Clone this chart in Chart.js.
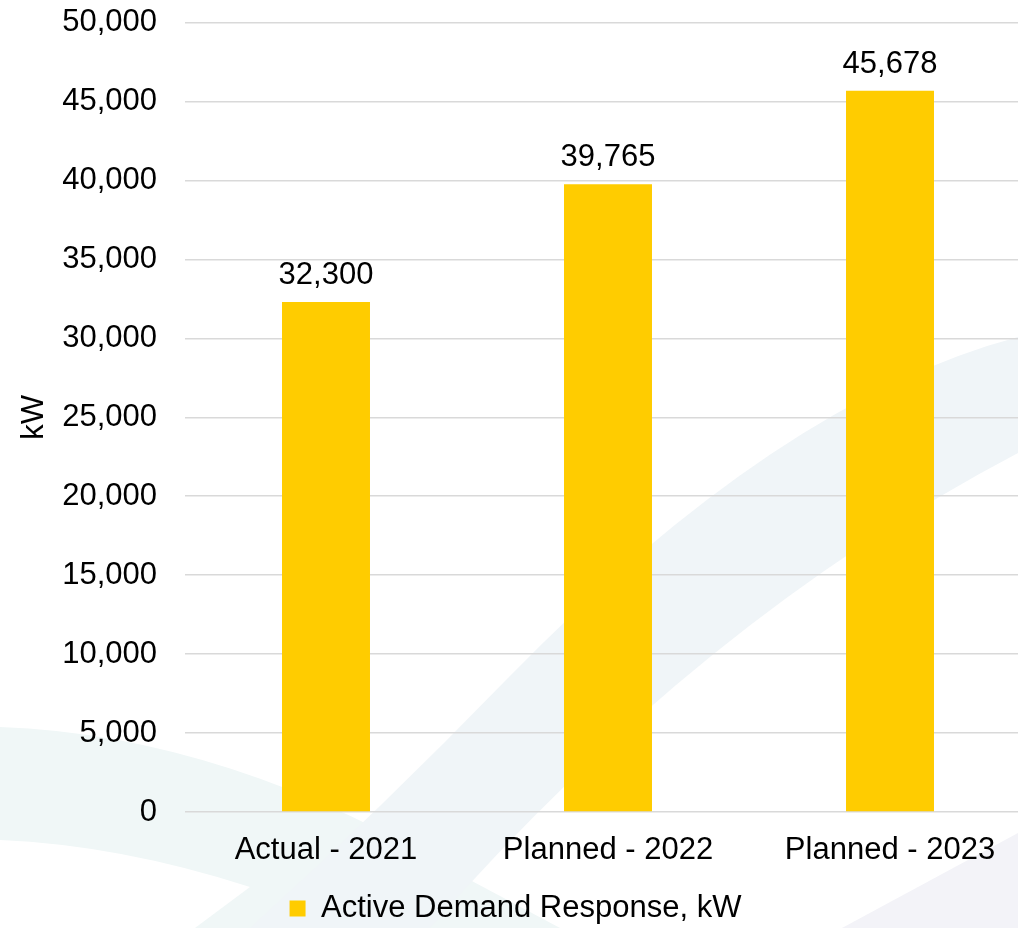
<!DOCTYPE html>
<html lang="en">
<head>
    <meta charset="UTF-8">
    <title>Active Demand Response</title>
    <script src="https://cdn.jsdelivr.net/npm/chart.js"></script>
    <style>
        html, body { margin: 0; padding: 0; overflow: hidden; background: #fff; }
        canvas { display: block; margin-top: -24px; }
    </style>
</head>
<body>
    <canvas id="drChart" width="1040" height="952"></canvas>

    <script>
        // chart data
        const categories = ['Actual - 2021', 'Planned - 2022', 'Planned - 2023'];
        const demandKw = [32300, 39765, 45678];
        const seriesLabel = 'Active Demand Response, kW';
        const yMax = 50000;
        const yStep = 5000;

        const FONT = "'Liberation Sans', Arial, sans-serif";
        const fmt = v => Number(v).toLocaleString('en-US');

        // faint decorative swooshes behind the chart (page coords, canvas is shifted up 24px)
        const backdrop = {
            id: 'backdrop',
            beforeDraw(chart) {
                const c = chart.ctx;
                c.save();
                c.fillStyle = '#ffffff';
                c.fillRect(0, 0, chart.width, chart.height);
                c.translate(0, 24);

                // teal band lower left
                c.fillStyle = '#f0f7f7';
                c.beginPath();
                c.moveTo(0, 727);
                c.quadraticCurveTo(230, 735, 470, 880);
                c.lineTo(560, 928);
                c.lineTo(195, 928);
                c.lineTo(250, 887);
                c.quadraticCurveTo(120, 845, 0, 840);
                c.closePath();
                c.fill();

                // blue-grey diagonal band
                c.fillStyle = '#f0f5f8';
                c.beginPath();
                c.moveTo(1018, 337);
                c.quadraticCurveTo(780, 400, 509, 677);
                c.quadraticCurveTo(380, 810, 250, 928);
                c.lineTo(430, 928);
                c.quadraticCurveTo(700, 620, 1018, 453);
                c.closePath();
                c.fill();

                // lavender corner bottom right
                c.fillStyle = '#f3f3f8';
                c.beginPath();
                c.moveTo(842, 928);
                c.lineTo(1018, 833);
                c.lineTo(1018, 928);
                c.closePath();
                c.fill();
                c.restore();
            }
        };

        // value labels above the bars
        const valueLabels = {
            id: 'valueLabels',
            afterDatasetsDraw(chart) {
                const c = chart.ctx;
                const meta = chart.getDatasetMeta(0);
                c.save();
                c.font = '31px ' + FONT;
                c.fillStyle = '#000';
                c.textAlign = 'center';
                c.textBaseline = 'alphabetic';
                meta.data.forEach((bar, i) => {
                    c.fillText(fmt(chart.data.datasets[0].data[i]), bar.x, bar.y - 18);
                });
                c.restore();
            }
        };

        const ctx = document.getElementById('drChart').getContext('2d');
        new Chart(ctx, {
            type: 'bar',
            data: {
                labels: categories,
                datasets: [{
                    label: seriesLabel,
                    data: demandKw,
                    backgroundColor: '#ffcc00',
                    borderWidth: 0,
                    categoryPercentage: 1,
                    barPercentage: 0.312
                }]
            },
            options: {
                responsive: false,
                animation: false,
                layout: { padding: { top: -2, right: 9, bottom: -6, left: 0 } },
                plugins: {
                    tooltip: { enabled: false },
                    legend: {
                        position: 'bottom',
                        labels: {
                            font: { family: FONT, size: 31 },
                            color: '#000',
                            boxWidth: 16,
                            boxHeight: 16,
                            padding: 5
                        }
                    }
                },
                scales: {
                    x: {
                        grid: { display: false, drawTicks: false },
                        border: { display: false },
                        ticks: {
                            font: { family: FONT, size: 31 },
                            color: '#000',
                            padding: 20,
                            maxRotation: 0
                        },
                        afterFit(scale) { scale.height = 76; }
                    },
                    y: {
                        min: 0,
                        max: yMax,
                        grid: { color: '#d9d9d9', lineWidth: 1.5, drawTicks: false },
                        border: { display: false },
                        ticks: {
                            stepSize: yStep,
                            font: { family: FONT, size: 31 },
                            color: '#000',
                            padding: 28,
                            callback: v => fmt(v)
                        },
                        title: {
                            display: true,
                            text: 'kW',
                            font: { family: FONT, size: 31 },
                            color: '#000',
                            padding: { top: 16, bottom: 0 }
                        },
                        afterFit(scale) { scale.width = 185; }
                    }
                }
            },
            plugins: [backdrop, valueLabels]
        });
    </script>
</body>
</html>
